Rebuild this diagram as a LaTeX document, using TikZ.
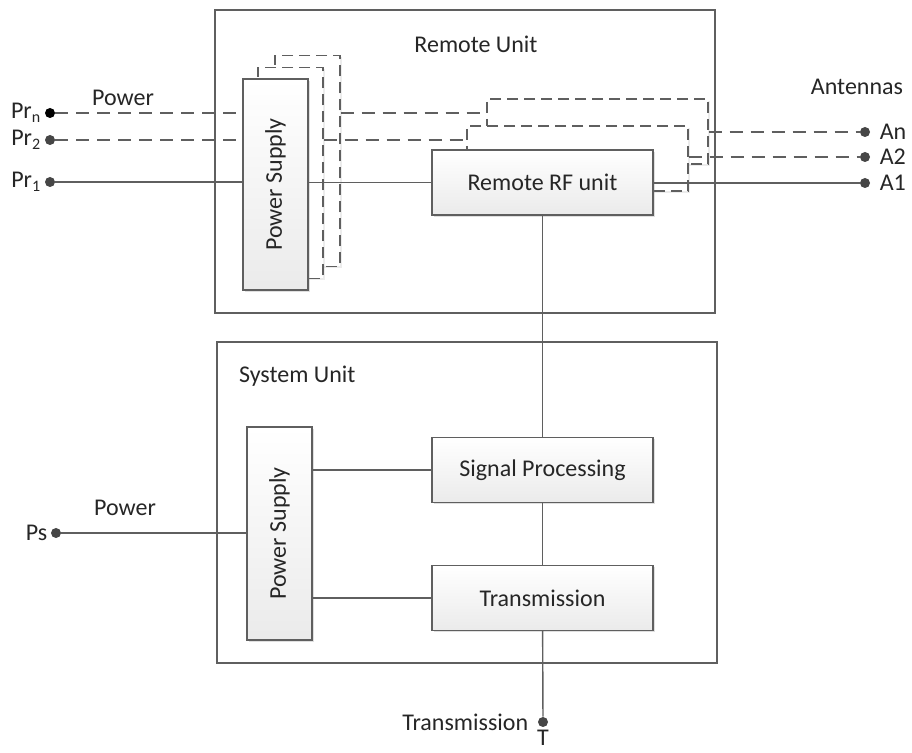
\documentclass[tikz,border=0pt]{standalone}
\usepackage{fontspec}
\setmainfont{Carlito}
\usetikzlibrary{positioning,shadows}

\definecolor{lnc}{RGB}{95,95,95}
\definecolor{dotc}{RGB}{70,70,70}

\tikzset{
	unit/.style={draw=lnc, line width=0.7pt, minimum width=250pt},
	blk/.style={draw=lnc, line width=0.7pt, top color=white, bottom color=gray!16,
		drop shadow={opacity=0.25, shadow xshift=1pt, shadow yshift=-1pt}},
	dbox/.style={draw=lnc, line width=0.7pt, dash pattern=on 5.5pt off 3pt, fill=white,
		drop shadow={opacity=0.15, shadow xshift=1pt, shadow yshift=-1pt}},
	bsize/.style={minimum width=110.5pt, minimum height=32.5pt, inner sep=0pt},
	psize/.style={minimum width=32.5pt, minimum height=105.5pt, inner sep=0pt},
	line/.style={draw=lnc, line width=0.7pt},
	dline/.style={line, dash pattern=on 6.5pt off 4pt},
	dot/.style={circle, fill=#1, inner sep=0pt, minimum size=5pt},
	dot/.default=dotc,
	lbl/.style={inner sep=1.5pt}
}

\begin{document}
\begin{tikzpicture}[x=0.5pt,y=-0.5pt,font=\fontsize{12}{14}\selectfont,text=black!85]
	\useasboundingbox (0,0) rectangle (912,753);

	% the two units
	\node[unit, minimum height=151.5pt] (ru) at (465,161.5) {};
	\node[unit, minimum height=160.5pt] (su) at (467,502.5) {};
	\node (ruL) at (476,44) {Remote Unit};
	\node[anchor=west] (suL) at (232,376) {System Unit};

	% remote power supplies
	\node[dbox, psize] (psR2) at (307.5,161) {};
	\node[dbox, psize] (psR1) at (290.5,173) {};
	\node[blk, psize] (psR) at (275.5,184.5) {\rotatebox{90}{Power Supply}};

	% remote rf units
	\node[dbox, bsize] (rf2) at (597.5,131.5) {};
	\node[dbox, bsize] (rf1) at (577.5,158.5) {};
	\node[blk, bsize] (rf) at (542.5,182.5) {Remote RF unit};

	% system unit
	\node[blk, psize, minimum height=106.5pt] (psS) at (279.5,533.5) {\rotatebox{90}{Power Supply}};
	\node[blk, bsize] (sp) at (542.5,470) {Signal Processing};
	\node[blk, bsize] (tx) at (542.5,598) {Transmission};

	% terminals
	\node[dot=black, label={[lbl]left:Pr\textsubscript{n}}] (prn) at (50,113) {};
	\node[dot, label={[lbl]left:Pr\textsubscript{2}}] (pr2) at (50,140) {};
	\node[dot, label={[lbl]left:Pr\textsubscript{1}}] (pr1) at (50,182) {};
	\node[dot, label={[lbl]left:Ps}] (ps) at (56,533) {};
	\node[dot, label={[lbl,label distance=3pt]right:An}] (an) at (865,132) {};
	\node[dot, label={[lbl,label distance=3pt]right:A2}] (a2) at (865,157) {};
	\node[dot, label={[lbl,label distance=3pt]right:A1}] (a1) at (865,183) {};
	\node[dot, label={[lbl,label distance=3pt]left:Transmission}, label={[inner sep=0pt,label distance=1pt]below:T}] (t) at (543,722) {};
	\node (pwrR) at (123,98) {Power};
	\node (pwrS) at (125,508) {Power};
	\node (ant) at (857,87) {Antennas};

	% power feeds
	\draw[dline] (prn) -- (prn -| psR.west);
	\draw[dline] (pr2) -- (pr2 -| psR.west);
	\draw[line] (pr1) -- (pr1 -| psR.west);
	\draw[dline] (prn -| psR2.east) -- (prn -| rf2.west);
	\draw[dline] (pr2 -| psR1.east) -- (pr2 -| rf1.west);
	\draw[line] (rf.west -| psR.east) -- (rf.west);
	\draw[line] (ps) -- (ps -| psS.west);

	% antennas
	\draw[dline] (an -| rf2.east) -- (an);
	\draw[dline] (a2 -| rf1.east) -- (a2);
	\draw[line] (a1 -| rf.east) -- (a1);

	% signal path
	\draw[line] (rf) -- (sp);
	\draw[line] (sp) -- (tx);
	\draw[line] (tx) -- (t);
	\draw[line] (sp.west -| psS.east) -- (sp.west);
	\draw[line] (tx.west -| psS.east) -- (tx.west);
\end{tikzpicture}
\end{document}
